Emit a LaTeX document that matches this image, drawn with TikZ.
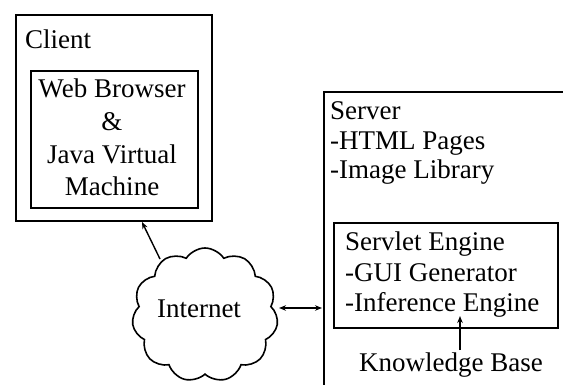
\documentclass[tikz,border=0pt]{standalone}
\usepackage{fontspec}
\setmainfont{Liberation Serif}
\usetikzlibrary{shapes.symbols,arrows.meta}
\begin{document}
\begin{tikzpicture}[x=1pt,y=-1pt,
  box/.style={draw,line width=2.2pt,inner sep=0pt,anchor=north west},
  txt/.style={inner sep=0pt,font=\fontsize{27}{32}\selectfont},
  conn/.style={line width=1.4pt,-{Stealth[length=7pt,width=5.5pt]}},
  conn2/.style={line width=1.4pt,{Stealth[length=7pt,width=5.5pt]}-{Stealth[length=7pt,width=5.5pt]}}]
\useasboundingbox (0,0) rectangle (563,385);
\clip (0,0) rectangle (563,385);
% client
\node[box,minimum width=196pt,minimum height=206pt] (client) at (15,14) {};
\node[box,minimum width=167pt,minimum height=137pt] (browser) at (30,70) {};
\node[txt,anchor=base west] (clientlbl) at (25,49) {Client};
\node[txt,anchor=base] (l1) at (112,98) {Web Browser};
\node[txt,anchor=base] (l2) at (112,131) {\&};
\node[txt,anchor=base] (l3) at (112,164) {Java Virtual};
\node[txt,anchor=base] (l4) at (112,196) {Machine};
% server
\node[box,minimum width=300pt,minimum height=340pt] (server) at (323,91) {};
\node[txt,anchor=base west] (s1) at (330,120) {Server};
\node[txt,anchor=base west] (s2) at (330,150) {-HTML Pages};
\node[txt,anchor=base west] (s3) at (330,179) {-Image Library};
\node[box,minimum width=224pt,minimum height=105pt] (servlet) at (333,222) {};
\node[txt,anchor=base west] (e1) at (345,251) {Servlet Engine};
\node[txt,anchor=base west] (e2) at (345,281) {-GUI Generator};
\node[txt,anchor=base west] (e3) at (345,311) {-Inference Engine};
\node[txt,anchor=base] (kb) at (451,371) {Knowledge Base};
% cloud
\node[draw,line width=1.6pt,cloud,cloud puffs=11,cloud puff arc=115,aspect=1.05,
      minimum width=146pt,minimum height=134pt,inner sep=0pt] (cloud) at (205,315) {};
\node[txt,anchor=base] (inet) at (199,317) {Internet};
% connectors
\coordinate (cl1) at (160,259);
\coordinate (cl2) at (142,222);
\draw[conn] (cl1) -- (cl2);
\coordinate (sv1) at (279,308);
\coordinate (sv2) at (322,308);
\draw[conn2] (sv1) -- (sv2);
\coordinate (kb1) at (460,350);
\coordinate (kb2) at (460,316);
\draw[conn] (kb1) -- (kb2);
\end{tikzpicture}
\end{document}
